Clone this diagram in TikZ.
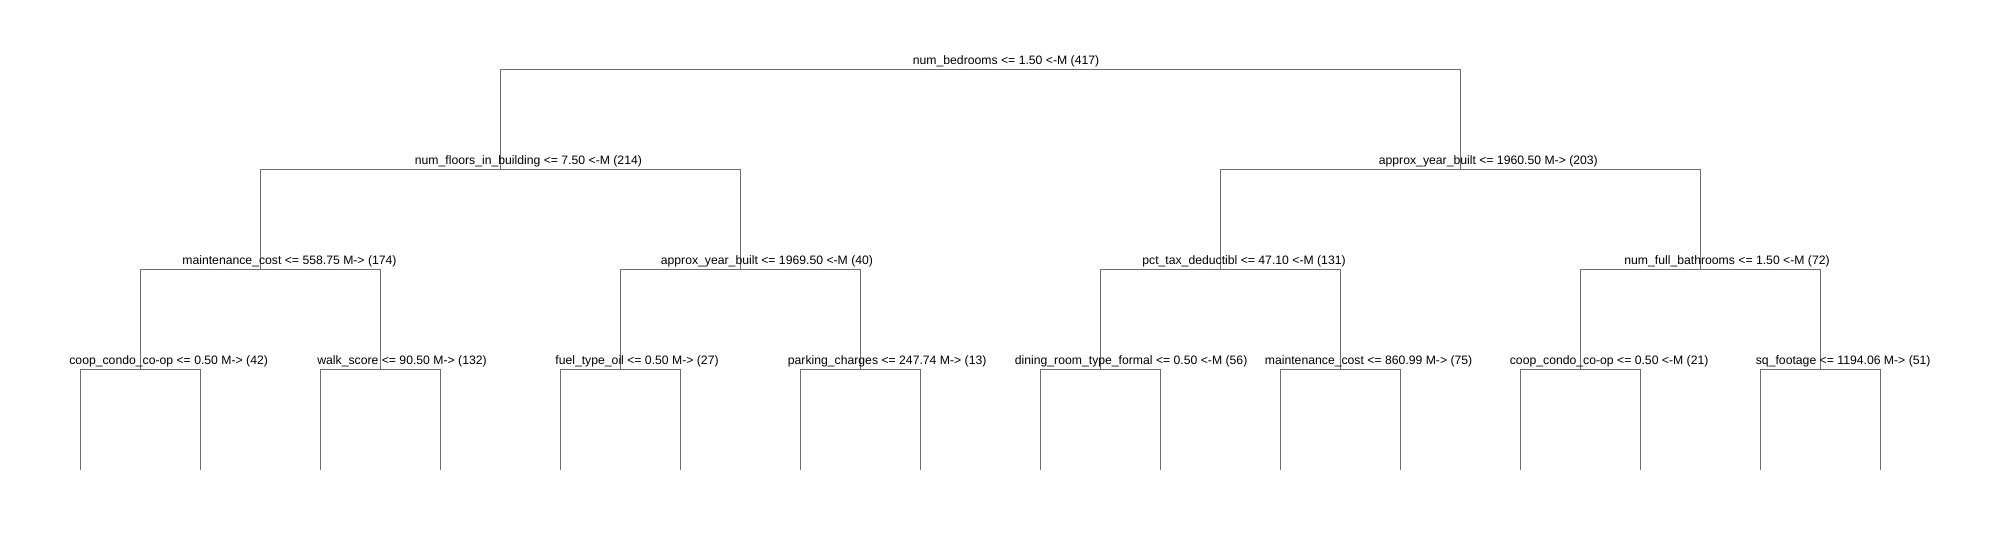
\documentclass[tikz,border=0pt]{standalone}
\usepackage{fontspec}
\setmainfont{Liberation Sans}
\definecolor{branch}{HTML}{6E6E6E}

\begin{document}
\begin{tikzpicture}[
		split/.style={anchor=base west,inner sep=0pt,font=\fontsize{6.95}{8}\selectfont},
		branchline/.style={draw=branch,line width=0.02cm}
	]
		%\draw[blue] (0,0) grid (40,11);
		\useasboundingbox (0,0) rectangle (39.96,10.8);

		% split points
		\coordinate (root) at (19.6,9.4);
		\coordinate (l) at (10.0,7.4);
		\coordinate (r) at (29.2,7.4);
		\coordinate (ll) at (5.2,5.4);
		\coordinate (lr) at (14.8,5.4);
		\coordinate (rl) at (24.4,5.4);
		\coordinate (rr) at (34.0,5.4);
		\coordinate (lll) at (2.8,3.4);
		\coordinate (llr) at (7.6,3.4);
		\coordinate (lrl) at (12.4,3.4);
		\coordinate (lrr) at (17.2,3.4);
		\coordinate (rll) at (22.0,3.4);
		\coordinate (rlr) at (26.8,3.4);
		\coordinate (rrl) at (31.6,3.4);
		\coordinate (rrr) at (36.4,3.4);

		% leaf ends
		\coordinate (lll1) at (1.6,1.4);
		\coordinate (lll2) at (4.0,1.4);
		\coordinate (llr1) at (6.4,1.4);
		\coordinate (llr2) at (8.8,1.4);
		\coordinate (lrl1) at (11.2,1.4);
		\coordinate (lrl2) at (13.6,1.4);
		\coordinate (lrr1) at (16.0,1.4);
		\coordinate (lrr2) at (18.4,1.4);
		\coordinate (rll1) at (20.8,1.4);
		\coordinate (rll2) at (23.2,1.4);
		\coordinate (rlr1) at (25.6,1.4);
		\coordinate (rlr2) at (28.0,1.4);
		\coordinate (rrl1) at (30.4,1.4);
		\coordinate (rrl2) at (32.8,1.4);
		\coordinate (rrr1) at (35.2,1.4);
		\coordinate (rrr2) at (37.6,1.4);

		% branches
		\draw [branchline] (root) -| (l);
		\draw [branchline] (root) -| (r);
		\draw [branchline] (l) -| (ll);
		\draw [branchline] (l) -| (lr);
		\draw [branchline] (r) -| (rl);
		\draw [branchline] (r) -| (rr);
		\draw [branchline] (ll) -| (lll);
		\draw [branchline] (ll) -| (llr);
		\draw [branchline] (lr) -| (lrl);
		\draw [branchline] (lr) -| (lrr);
		\draw [branchline] (rl) -| (rll);
		\draw [branchline] (rl) -| (rlr);
		\draw [branchline] (rr) -| (rrl);
		\draw [branchline] (rr) -| (rrr);
		\draw [branchline] (lll) -| (lll1);
		\draw [branchline] (lll) -| (lll2);
		\draw [branchline] (llr) -| (llr1);
		\draw [branchline] (llr) -| (llr2);
		\draw [branchline] (lrl) -| (lrl1);
		\draw [branchline] (lrl) -| (lrl2);
		\draw [branchline] (lrr) -| (lrr1);
		\draw [branchline] (lrr) -| (lrr2);
		\draw [branchline] (rll) -| (rll1);
		\draw [branchline] (rll) -| (rll2);
		\draw [branchline] (rlr) -| (rlr1);
		\draw [branchline] (rlr) -| (rlr2);
		\draw [branchline] (rrl) -| (rrl1);
		\draw [branchline] (rrl) -| (rrl2);
		\draw [branchline] (rrr) -| (rrr1);
		\draw [branchline] (rrr) -| (rrr2);

		% split labels
		\node [split] (root-lab) at (18.25,9.5) {num\_bedrooms <= 1.50 <-M (417)};
		\node [split] (l-lab) at (8.29,7.5) {num\_floors\_in\_building <= 7.50 <-M (214)};
		\node [split] (r-lab) at (27.57,7.5) {approx\_year\_built <= 1960.50 M-> (203)};
		\node [split] (ll-lab) at (3.64,5.5) {maintenance\_cost <= 558.75 M-> (174)};
		\node [split] (lr-lab) at (13.21,5.5) {approx\_year\_built <= 1969.50 <-M (40)};
		\node [split] (rl-lab) at (22.84,5.5) {pct\_tax\_deductibl <= 47.10 <-M (131)};
		\node [split] (rr-lab) at (32.48,5.5) {num\_full\_bathrooms <= 1.50 <-M (72)};
		\node [split] (lll-lab) at (1.38,3.5) {coop\_condo\_co-op <= 0.50 M-> (42)};
		\node [split] (llr-lab) at (6.34,3.5) {walk\_score <= 90.50 M-> (132)};
		\node [split] (lrl-lab) at (11.1,3.5) {fuel\_type\_oil <= 0.50 M-> (27)};
		\node [split] (lrr-lab) at (15.75,3.5) {parking\_charges <= 247.74 M-> (13)};
		\node [split] (rll-lab) at (20.29,3.5) {dining\_room\_type\_formal <= 0.50 <-M (56)};
		\node [split] (rlr-lab) at (25.29,3.5) {maintenance\_cost <= 860.99 M-> (75)};
		\node [split] (rrl-lab) at (30.19,3.5) {coop\_condo\_co-op <= 0.50 <-M (21)};
		\node [split] (rrr-lab) at (35.11,3.5) {sq\_footage <= 1194.06 M-> (51)};

	\end{tikzpicture}
\end{document}
